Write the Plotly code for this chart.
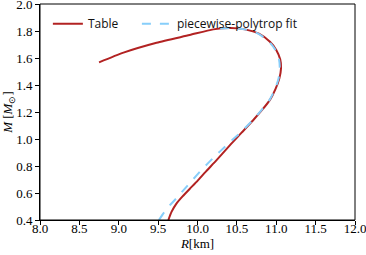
import plotly.graph_objects as go

# Table (tabulated EOS) mass-radius curve
table_R = [9.63, 9.67, 9.73, 9.81, 9.90, 10.00, 10.10, 10.245, 10.41, 10.56, 10.72, 10.82,
           10.92, 10.99, 11.04, 11.06, 11.05, 11.00, 10.92, 10.78, 10.60, 10.42, 10.20,
           9.90, 9.48, 9.06, 8.75]
table_M = [0.40, 0.46, 0.52, 0.575, 0.63, 0.69, 0.755, 0.845, 0.953, 1.047, 1.148, 1.215,
           1.29, 1.37, 1.45, 1.52, 1.59, 1.66, 1.72, 1.78, 1.812, 1.822, 1.812,
           1.77, 1.713, 1.64, 1.568]

# piecewise-polytrope fit
fit_R = [9.51, 9.58, 9.65, 9.73, 9.82, 9.92, 10.05, 10.20, 10.38, 10.55, 10.71, 10.815,
         10.915, 10.985, 11.03, 11.045, 11.035, 10.99, 10.91, 10.77, 10.60, 10.42, 10.20]
fit_M = [0.40, 0.46, 0.51, 0.56, 0.62, 0.685, 0.77, 0.86, 0.96, 1.05, 1.145, 1.215,
         1.29, 1.37, 1.45, 1.52, 1.59, 1.66, 1.72, 1.78, 1.812, 1.822, 1.815]

x_ticks = [8.0, 8.5, 9.0, 9.5, 10.0, 10.5, 11.0, 11.5, 12.0]
y_ticks = [0.4, 0.6, 0.8, 1.0, 1.2, 1.4, 1.6, 1.8, 2.0]

fig = go.Figure()
fig.add_trace(go.Scatter(x=table_R, y=table_M, mode="lines", name="Table", legend="legend",
                         line=dict(color="#b22222", width=2, shape="spline", smoothing=0.6)))
fig.add_trace(go.Scatter(x=fit_R, y=fit_M, mode="lines", name="piecewise-polytrop fit",
                         legend="legend2",
                         line=dict(color="#87cefa", width=2, dash="dash", shape="spline", smoothing=0.6)))

# axes frame (top and right spines)
fig.add_shape(type="rect", xref="paper", yref="paper", x0=0, x1=1, y0=0, y1=1,
              line=dict(color="black", width=1), fillcolor="rgba(0,0,0,0)", layer="above")

tickfont = dict(family="Liberation Serif", size=13, color="#000")
legfont = dict(family="Open Sans", size=12, color="#111")
fig.update_layout(
    width=366, height=255,
    margin=dict(l=40, r=11, t=4, b=35, autoexpand=False),
    paper_bgcolor="white", plot_bgcolor="white",
    showlegend=True,
    legend=dict(orientation="h", x=0.025, y=0.976, xanchor="left", yanchor="top",
                bgcolor="rgba(0,0,0,0)", font=legfont, itemwidth=30),
    legend2=dict(orientation="h", x=0.3076, y=0.976, xanchor="left", yanchor="top",
                 bgcolor="rgba(0,0,0,0)", font=legfont, itemwidth=30),
    xaxis=dict(range=[8.0, 12.0], tickvals=x_ticks, ticktext=[f"{v:.1f}" for v in x_ticks],
               showgrid=False, zeroline=False, showline=True, linecolor="black", linewidth=1,
               ticks="outside", ticklen=4, tickcolor="black", tickfont=tickfont,
               automargin=False, ticklabeloverflow="allow", ticklabelstandoff=-8,
               title=dict(text="<i>R</i>[km]", font=tickfont, standoff=2)),
    yaxis=dict(range=[0.4, 2.0], tickvals=y_ticks, ticktext=[f"{v:.1f}" for v in y_ticks],
               showgrid=False, zeroline=False, showline=True, linecolor="black", linewidth=1,
               ticks="outside", ticklen=4, tickcolor="black", tickfont=tickfont,
               automargin=False, ticklabeloverflow="allow",
               title=dict(text="<i>M</i> [<i>M</i><sub>⊙</sub>]", font=tickfont, standoff=4)),
)
fig.write_html(
    "out.html",
    config={"displayModeBar": False},
    post_script="document.body.style.margin='0';document.body.style.overflow='hidden';"
                "document.documentElement.style.overflow='hidden';",
)
